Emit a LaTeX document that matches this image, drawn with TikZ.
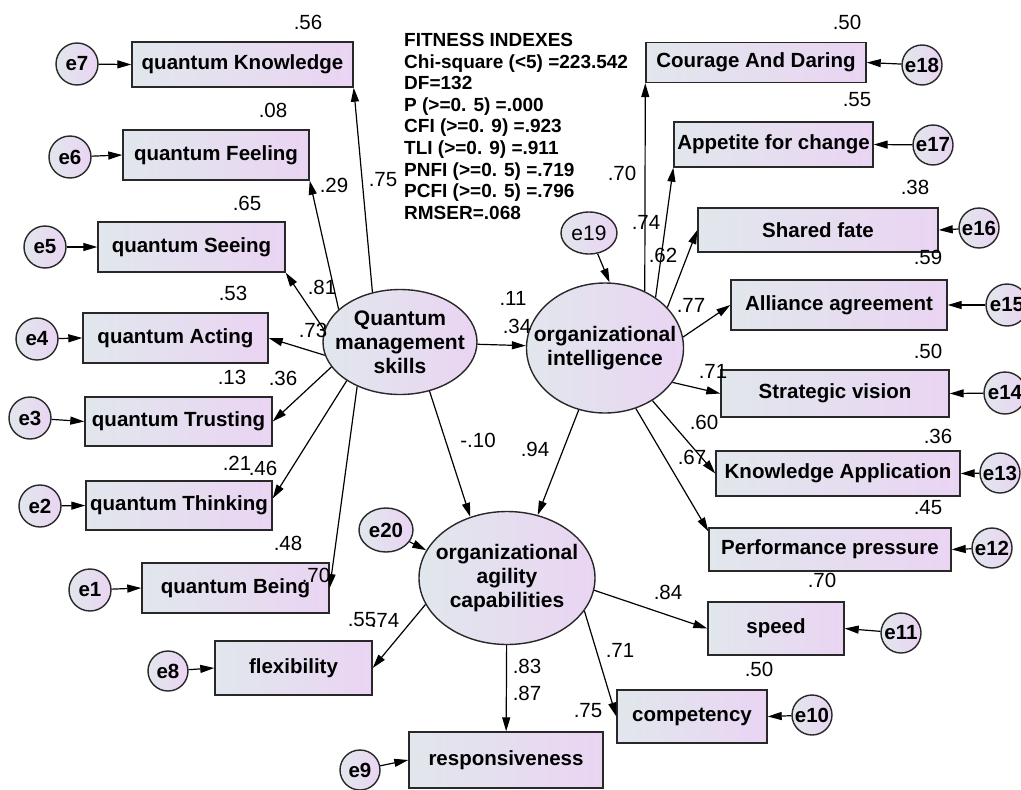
\documentclass[tikz,border=0pt]{standalone}
\usepackage{fontspec}
\setmainfont{Liberation Sans}
\usetikzlibrary{arrows.meta,shapes.geometric}
\definecolor{boxL}{RGB}{225,231,236}
\definecolor{boxR}{RGB}{234,212,243}
\definecolor{edgec}{RGB}{40,40,40}
\tikzset{
 obs/.style={draw=edgec, line width=1.4pt, left color=boxL, right color=boxR, inner sep=0pt, font=\bfseries\fontsize{20.5}{24}\selectfont},
 lat/.style={draw=edgec, line width=1.4pt, ellipse, left color=boxL, right color=boxR, inner sep=0pt},
 lattxt/.style={inner sep=0pt, align=center, font=\bfseries\fontsize{21}{24}\selectfont},
 err/.style={draw=edgec, line width=1.4pt, circle, left color=boxL, right color=boxR, inner sep=0pt},
 errE/.style={draw=edgec, line width=1.4pt, ellipse, left color=boxL, right color=boxR, inner sep=0pt},
 errtxt/.style={inner sep=0pt, font=\bfseries\fontsize{20.5}{24}\selectfont},
 errtxtr/.style={inner sep=0pt, font=\fontsize{21}{24}\selectfont},
 num/.style={inner sep=0pt, font=\fontsize{20.5}{24}\selectfont},
 arr/.style={draw=black, line width=1.2pt, -{Triangle[length=14pt,width=8pt]}},
}
\begin{document}
\begin{tikzpicture}[x=1pt,y=-1pt]
\path[fill=white, use as bounding box] (0,0) rectangle (1021,790);

% observed boxes, left
\node[obs, minimum width=221pt, minimum height=45pt] (K) at (242.5,64.5) {quantum Knowledge};
\node[obs, minimum width=186pt, minimum height=50pt] (F) at (216,155) {quantum Feeling};
\node[obs, minimum width=187pt, minimum height=50pt] (S) at (191.5,247) {quantum Seeing};
\node[obs, minimum width=185pt, minimum height=50pt] (A) at (175.5,338) {quantum Acting};
\node[obs, minimum width=187pt, minimum height=49pt] (T) at (178.5,421.5) {quantum Trusting};
\node[obs, minimum width=186pt, minimum height=49pt] (Th) at (179,505.5) {quantum Thinking};
\node[obs, minimum width=187pt, minimum height=50pt] (B) at (235.5,588) {quantum Being};
% bottom
\node[obs, minimum width=157pt, minimum height=54pt] (flex) at (293.5,668) {flexibility};
\node[obs, minimum width=194pt, minimum height=56pt] (resp) at (506,760) {responsiveness};
\node[obs, minimum width=150pt, minimum height=53pt] (comp) at (692,716.5) {competency};
\node[obs, minimum width=136pt, minimum height=53pt] (speed) at (776,628.5) {speed};
% right
\node[obs, minimum width=220pt, minimum height=40pt] (CD) at (756,62.5) {Courage And Daring};
\node[obs, minimum width=199pt, minimum height=45pt] (AC) at (773.5,144.5) {Appetite for change};
\node[obs, minimum width=240pt, minimum height=44pt] (SF) at (818,230) {Shared fate};
\node[obs, minimum width=216pt, minimum height=50pt] (AA) at (839,305) {Alliance agreement};
\node[obs, minimum width=228pt, minimum height=47pt] (SV) at (835,393.5) {Strategic vision};
\node[obs, minimum width=244pt, minimum height=45pt] (KA) at (838,473.5) {Knowledge Application};
\node[obs, minimum width=242pt, minimum height=43pt] (PP) at (830,549.5) {Performance pressure};

% latent variables
\node[lat, minimum width=154pt, minimum height=105pt, label={[lattxt]center:Quantum\\management\\skills}] (Q) at (400,342) {};
\node[lat, minimum width=157pt, minimum height=130pt, label={[lattxt]center:organizational\\intelligence}] (OI) at (605,348) {};
\node[lat, minimum width=176pt, minimum height=133pt, label={[lattxt]center:organizational\\agility\\capabilities}] (AG) at (507,578) {};

% error terms
\node[err, minimum size=42pt, label={[errtxt]center:e7}] (e7) at (77,64) {};
\node[err, minimum size=42pt, label={[errtxt]center:e6}] (e6) at (70,157) {};
\node[err, minimum size=42pt, label={[errtxt]center:e5}] (e5) at (45,247) {};
\node[err, minimum size=42pt, label={[errtxt]center:e4}] (e4) at (37,339) {};
\node[err, minimum size=42pt, label={[errtxt]center:e3}] (e3) at (30,418) {};
\node[err, minimum size=42pt, label={[errtxt]center:e2}] (e2) at (40,506) {};
\node[err, minimum size=42pt, label={[errtxt]center:e1}] (e1) at (90,590) {};
\node[err, minimum size=40pt, label={[errtxt]center:e8}] (e8) at (168,671) {};
\node[err, minimum size=40pt, label={[errtxt]center:e9}] (e9) at (360,770) {};
\node[errE, minimum width=54pt, minimum height=44pt, label={[errtxt]center:e20}] (e20) at (386,530) {};
\node[errE, minimum width=56pt, minimum height=42pt, label={[errtxtr]center:e19}] (e19) at (589,233) {};
\node[err, minimum size=40pt, label={[errtxt]center:e18}] (e18) at (922,65) {};
\node[err, minimum size=40pt, label={[errtxt]center:e17}] (e17) at (933,145) {};
\node[err, minimum size=40pt, label={[errtxt]center:e16}] (e16) at (979,228) {};
\node[err, minimum size=42pt, label={[errtxt]center:e15}] (e15) at (1007,305) {};
\node[err, minimum size=42pt, label={[errtxt]center:e14}] (e14) at (1005,393) {};
\node[err, minimum size=40pt, label={[errtxt]center:e13}] (e13) at (1000,473) {};
\node[err, minimum size=40pt, label={[errtxt]center:e12}] (e12) at (992,548) {};
\node[err, minimum size=40pt, label={[errtxt]center:e11}] (e11) at (901,633) {};
\node[err, minimum size=40pt, label={[errtxt]center:e10}] (e10) at (812,715) {};

% error arrows
\draw[arr] (e7) -- (K.west);
\draw[arr] (e6) -- (F.west);
\draw[arr] (e5) -- (S.west);
\draw[arr] (e4) -- (A.west);
\draw[arr] (e3) -- (T.west);
\draw[arr] (e2) -- (Th.west);
\draw[arr] (e1) -- (B.west);
\draw[arr] (e8) -- (flex.west);
\draw[arr] (e9) -- (resp.west);
\draw[arr] (e18) -- (CD.east);
\draw[arr] (e17) -- (AC.east);
\draw[arr] (e16) -- (SF.east);
\draw[arr] (e15) -- (AA.east);
\draw[arr] (e14) -- (SV.east);
\draw[arr] (e13) -- (KA.east);
\draw[arr] (e12) -- (PP.east);
\draw[arr] (e11) -- (speed.east);
\draw[arr] (e10) -- (comp.east);
\draw[arr] (e19) -- (OI.86);
\draw[arr] (e20) -- (AG.161);

% loadings
\draw[arr] (Q.119) -- (K.south east);
\draw[arr] (Q.152) -- (F.south east);
\draw[arr] (Q.171) -- (S.south east);
\draw[arr] (Q.190) -- (A.east);
\draw[arr] (Q.200) -- (T.east);
\draw[arr] (Q.216) -- ([yshift=7pt]Th.east);
\draw[arr] (Q.226) -- (B.east);
\draw[arr] (Q) -- (OI);
\draw[arr] (Q.301) -- (AG.121);
\draw[arr] (OI.247) -- (AG.64);
\draw[arr] (OI.55) -- (CD.south west);
\draw[arr] (OI.45) -- (AC.south west);
\draw[arr] (OI.33) -- (SF.west);
\draw[arr] (OI.8) -- (AA.west);
\draw[arr] (OI.-27) -- (SV.west);
\draw[arr] (OI.-48) -- (KA.west);
\draw[arr] (OI.-63) -- ([yshift=-4pt]PP.north west);
\draw[arr] (AG.198) -- (flex.east);
\draw[arr] (AG) -- (resp);
\draw[arr] (AG.-23) -- (comp.west);
\draw[arr] (AG.-8) -- (speed.west);

% numbers
\node[num] (n1) at (308,22) {.56};
\node[num] (n2) at (273,110) {.08};
\node[num] (n3) at (247,203) {.65};
\node[num] (n4) at (233,293) {.53};
\node[num] (n5) at (232,377) {.13};
\node[num] (n6) at (283,378) {.36};
\node[num] (n7) at (237,463) {.21};
\node[num] (n8) at (263,468) {.46};
\node[num] (n9) at (288,543) {.48};
\node[num] (n10) at (316,575) {.70};
\node[num] (n11) at (383,180) {.75};
\node[num] (n12) at (334,185) {.29};
\node[num] (n13) at (322,287) {.81};
\node[num] (n14) at (313,330) {.73};
\node[num] (n15) at (513,298) {.11};
\node[num] (n16) at (517,326) {.34};
\node[num] (n17) at (478,440) {-.10};
\node[num] (n18) at (535,449) {.94};
\node[num] (n19) at (362,620) {.55};
\node[num] (n20) at (385,620) {.74};
\node[num] (n21) at (527,666) {.83};
\node[num] (n22) at (527,693) {.87};
\node[num] (n23) at (588,711) {.75};
\node[num] (n24) at (620,650) {.71};
\node[num] (n25) at (668,592) {.84};
\node[num] (n26) at (822,580) {.70};
\node[num] (n27) at (759,669) {.50};
\node[num] (n28) at (622,173) {.70};
\node[num] (n29) at (646,222) {.74};
\node[num] (n30) at (663,255) {.62};
\node[num] (n31) at (847,22) {.50};
\node[num] (n32) at (857,100) {.55};
\node[num] (n33) at (915,187) {.38};
\node[num] (n34) at (928,257) {.59};
\node[num] (n35) at (691,305) {.77};
\node[num] (n36) at (713,371) {.71};
\node[num] (n37) at (704,422) {.60};
\node[num] (n38) at (692,457) {.67};
\node[num] (n39) at (928,351) {.50};
\node[num] (n40) at (938,436) {.36};
\node[num] (n41) at (928,508) {.45};

% fitness indexes
\node[anchor=north west, inner sep=0pt, align=left, font=\bfseries\fontsize{19}{21.6}\selectfont] (fit) at (404,33) {FITNESS INDEXES\\Chi-square (<5) =223.542\\DF=132\\P (>=0. 5) =.000\\CFI (>=0. 9) =.923\\TLI (>=0. 9) =.911\\PNFI (>=0. 5) =.719\\PCFI (>=0. 5) =.796\\RMSER=.068};
\end{tikzpicture}
\end{document}
